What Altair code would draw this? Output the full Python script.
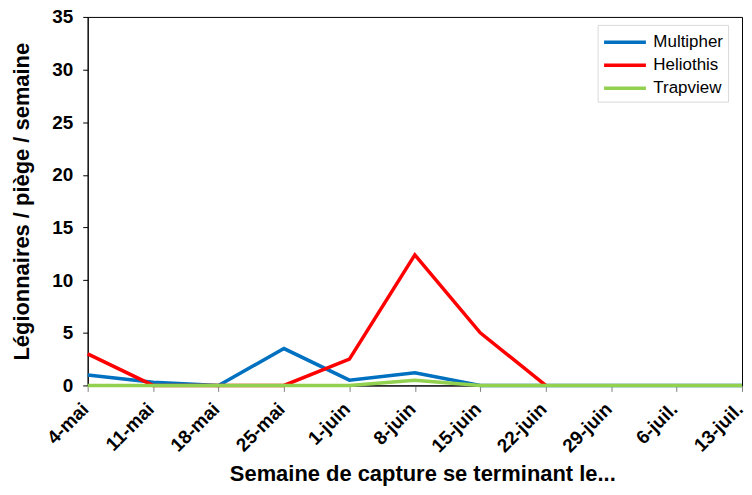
import altair as alt
import pandas as pd

weeks = ["4-mai", "11-mai", "18-mai", "25-mai", "1-juin", "8-juin", "15-juin",
         "22-juin", "29-juin", "6-juil.", "13-juil."]
multipher = [1.0, 0.3, 0.0, 3.5, 0.5, 1.2, 0.0, 0.0, 0.0, 0.0, 0.0]
heliothis = [3.0, 0.0, 0.0, 0.0, 2.5, 12.4, 5.0, 0.0, None, None, None]
trapview = [0.0, 0.0, 0.0, 0.0, 0.0, 0.5, 0.0, 0.0, 0.0, 0.0, 0.0]

series = ["Multipher", "Heliothis", "Trapview"]
colors = ["#0070C0", "#FF0000", "#92D050"]

rows = []
for name, vals in zip(series, [multipher, heliothis, trapview]):
    for w, v in zip(weeks, vals):
        if v is not None:
            rows.append({"week": w, "value": v, "series": name,
                         "order": series.index(name)})
df = pd.DataFrame(rows)

font = "Liberation Sans"

chart = alt.Chart(df).mark_line(strokeWidth=3.5).encode(
    x=alt.X("week:N", sort=weeks, scale=alt.Scale(type="point", padding=0),
            axis=alt.Axis(title="Semaine de capture se terminant le...",
                          labelAngle=-45, labelFontSize=19, labelFontWeight="bold",
                          labelColor="black", titleFontSize=22, titleFontWeight="bold",
                          titleColor="black", titlePadding=8, titleX=336, tickSize=6,
                          tickColor="#808080", domainColor="black", grid=False,
                          labelPadding=8, labelOffset=-9)),
    y=alt.Y("value:Q", scale=alt.Scale(domain=[0, 35], nice=False),
            axis=alt.Axis(title="Légionnaires / piège / semaine", values=list(range(0, 36, 5)),
                          labelFontSize=19, labelFontWeight="bold", labelColor="black",
                          titleFontSize=22, titleFontWeight="bold", titleColor="black",
                          titlePadding=18, tickSize=5, tickColor="black",
                          domainColor="black", grid=False, labelPadding=10)),
    color=alt.Color("series:N", sort=series,
                    scale=alt.Scale(domain=series, range=colors),
                    legend=alt.Legend(title=None, orient="none", legendX=512, legendY=8,
                                      symbolType="M-2,0L2,0", symbolSize=441,
                                      symbolStrokeWidth=3.5, symbolOffset=10,
                                      labelFontSize=17, labelColor="black", labelFont=font,
                                      strokeColor="#d9d9d9", fillColor="white",
                                      padding=5, rowPadding=2, labelOffset=16)),
    order=alt.Order("order:Q"),
    detail="series:N",
).properties(
    width=657, height=370,
    autosize=alt.AutoSizeParams(type="none"),
    padding={"left": 80, "top": 8, "right": 2, "bottom": 100},
).configure(font=font).configure_view(stroke="black", strokeWidth=1)

chart.save("out.html", embed_options={"renderer": "svg", "actions": False})
